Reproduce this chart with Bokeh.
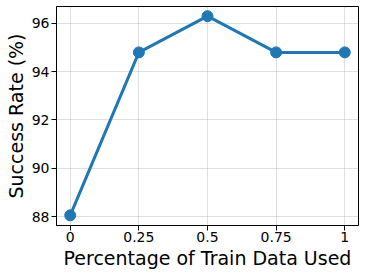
from bokeh.plotting import figure
from bokeh.models import Range1d, FixedTicker
from bokeh.embed import file_html
from bokeh.resources import INLINE

fractions = [0, 0.25, 0.5, 0.75, 1]
success_rate = [88.05, 94.8, 96.3, 94.8, 94.8]
x_tick_labels = ["0", "0.25", "0.5", "0.75", "1"]
y_ticks = [88, 90, 92, 94, 96]
x_label = "Percentage of Train Data Used"
y_label = "Success Rate (%)"

FONT = "DejaVu Sans"
BLUE = "#1f77b4"

p = figure(width=365, height=277, output_backend="svg", toolbar_location=None,
           x_range=Range1d(-0.05, 1.05), y_range=Range1d(87.63, 96.7),
           min_border_left=56, min_border_right=7, min_border_top=6, min_border_bottom=52)
p.background_fill_color = "white"
p.border_fill_color = "white"
p.outline_line_color = "black"
p.outline_line_width = 1

p.line(fractions, success_rate, line_color=BLUE, line_width=3)
p.scatter(fractions, success_rate, size=11, fill_color=BLUE, line_color=BLUE)

p.xaxis.ticker = FixedTicker(ticks=fractions)
p.xaxis.major_label_overrides = {f: l for f, l in zip(fractions, x_tick_labels)}
p.yaxis.ticker = FixedTicker(ticks=y_ticks)
p.xaxis.axis_label = x_label
p.yaxis.axis_label = y_label

for ax in (p.xaxis[0], p.yaxis[0]):
    ax.axis_label_text_font = FONT
    ax.axis_label_text_font_size = "19px"
    ax.axis_label_text_font_style = "normal"
    ax.axis_label_text_color = "black"
    ax.major_label_text_font = FONT
    ax.major_label_text_font_size = "14px"
    ax.major_label_text_color = "black"
    ax.major_tick_out = 5
    ax.major_tick_in = 0
    ax.minor_tick_out = 0
    ax.minor_tick_in = 0
    ax.major_tick_line_color = "black"
    ax.axis_line_color = "black"
    ax.major_label_standoff = 1
    ax.axis_label_standoff = 2

p.yaxis.major_label_standoff = 2
p.yaxis.axis_label_standoff = 2

p.grid.grid_line_color = "#b0b0b0"
p.grid.grid_line_alpha = 0.4
p.grid.grid_line_width = 1

open("out.html", "w").write(file_html(p, INLINE))
